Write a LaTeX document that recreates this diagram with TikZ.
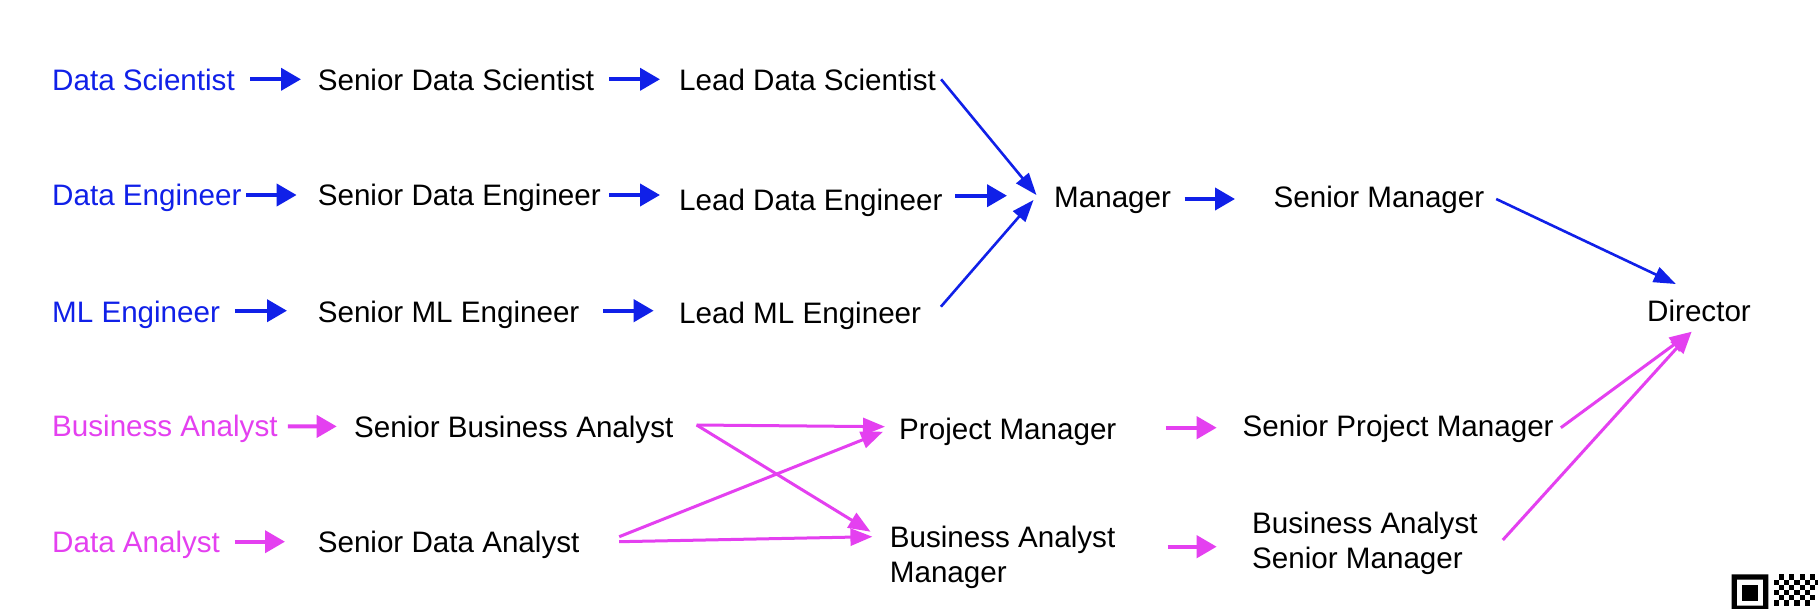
\documentclass[tikz,border=0pt]{standalone}
\usepackage{fontspec}
\setmainfont{Liberation Sans}
\usetikzlibrary{arrows.meta}
\definecolor{cblue}{RGB}{16,32,232}
\definecolor{cmag}{RGB}{228,64,240}
\begin{document}
\begin{tikzpicture}[x=1pt,y=-1pt,
  lbl/.style={anchor=base west,inner sep=0pt,font=\fontsize{29.6}{35}\selectfont},
  lbl2/.style={anchor=west,inner sep=0pt,align=left,font=\fontsize{29.6}{35}\selectfont},
  sarr/.style={line width=4pt,-{Triangle[length=20pt,width=22pt]}},
  darr/.style={line width=2.6pt,-{Triangle[length=22pt,width=16pt]}},
  marr/.style={line width=3pt,-{Triangle[length=22pt,width=17pt]}},
]
\fill[white] (0,0) rectangle (1818,608);
\useasboundingbox (0,0) rectangle (1818,608);

% row 1
\node[lbl,text=cblue] (ds)  at (52,90.7)  {Data Scientist};
\node[lbl] (sds) at (317.6,90.7) {Senior Data Scientist};
\node[lbl] (lds) at (679,90.7)   {Lead Data Scientist};
% row 2
\node[lbl,text=cblue] (de)  at (52,205.7)  {Data Engineer};
\node[lbl] (sde) at (317.6,205.7) {Senior Data Engineer};
\node[lbl] (lde) at (679,210.7)   {Lead Data Engineer};
\node[lbl] (mgr) at (1054,207.3)  {Manager};
\node[lbl] (smgr) at (1273.5,207.3) {Senior Manager};
% row 3
\node[lbl,text=cblue] (ml)  at (52,322.3)  {ML Engineer};
\node[lbl] (sml) at (317.6,322.3) {Senior ML Engineer};
\node[lbl] (lml) at (679,323.3)   {Lead ML Engineer};
\node[lbl] (dir) at (1647,321)    {Director};
% row 4
\node[lbl,text=cmag] (ba)  at (52,436.7)  {Business Analyst};
\node[lbl] (sba) at (354,437.3)   {Senior Business Analyst};
\node[lbl] (pm)  at (899,439)     {Project Manager};
\node[lbl] (spm) at (1242.5,436.7) {Senior Project Manager};
% row 5
\node[lbl,text=cmag] (da)  at (52,552.3)  {Data Analyst};
\node[lbl] (sda) at (317.6,552.3) {Senior Data Analyst};
\node[lbl2] (bam)  at (889.7,557.3) {Business Analyst\\Manager};
\node[lbl2] (basm) at (1252,543.3)  {Business Analyst\\Senior Manager};

% blue short arrows
\draw[sarr,cblue] ([shift={(15,-11.4)}]ds.base east) -- ([shift={(-16.6,-11.4)}]sds.base west);
\draw[sarr,cblue] ([shift={(14.6,-11.4)}]sds.base east) -- ([shift={(-19,-11.4)}]lds.base west);
\draw[sarr,cblue] ([shift={(4.5,-10.7)}]de.base east) -- ([shift={(-21,-10.7)}]sde.base west);
\draw[sarr,cblue] ([shift={(8,-10.7)}]sde.base east) -- ([shift={(-19,-15.7)}]lde.base west);
\draw[sarr,cblue] ([shift={(12.6,-15)}]lde.base east) -- ([shift={(-47,-11.6)}]mgr.base west);
\draw[sarr,cblue] ([shift={(13.5,-8.3)}]mgr.base east) -- ([shift={(-38.5,-8.3)}]smgr.base west);
\draw[sarr,cblue] ([shift={(14.7,-11.6)}]ml.base east) -- ([shift={(-30.6,-11.6)}]sml.base west);
\draw[sarr,cblue] ([shift={(23.7,-11.6)}]sml.base east) -- ([shift={(-25.3,-12.6)}]lml.base west);

% blue diagonals
\draw[darr,cblue] ([shift={(5,-11.4)}]lds.base east) -- ([shift={(-17.6,-12.3)}]mgr.base west);
\draw[darr,cblue] ([shift={(19.6,-16.6)}]lml.base east) -- ([shift={(-20.5,-7.3)}]mgr.base west);
\draw[darr,cblue] ([shift={(11.7,-8.3)}]smgr.base east) -- ([shift={(28.8,-37)}]dir.base west);

% magenta short arrows
\draw[sarr,cmag] ([shift={(10,-10.3)}]ba.base east) -- ([shift={(-17.3,-10.9)}]sba.base west);
\draw[sarr,cmag] ([shift={(14.7,-10.6)}]da.base east) -- ([shift={(-32.6,-10.6)}]sda.base west);
\draw[sarr,cmag] ([shift={(49.4,-11.3)}]pm.base east) -- ([shift={(-25.8,-9)}]spm.base west);
\draw[sarr,cmag] ([shift={(52.3,-10.6)}]bam.east) -- ([shift={(-35.3,3.4)}]basm.west);

% magenta diagonals
\draw[marr,cmag] ([shift={(23,-12.3)}]sba.base east) -- ([shift={(-14,-12.3)}]pm.base west);
\draw[marr,cmag] ([shift={(23,-12.3)}]sba.base east) -- ([shift={(-19.2,-25.6)}]bam.west);
\draw[marr,cmag] ([shift={(39.6,-15.6)}]sda.base east) -- ([shift={(-16,-7.3)}]pm.base west);
\draw[marr,cmag] ([shift={(39.6,-10.6)}]sda.base east) -- ([shift={(-17.3,-20.6)}]bam.west);
\draw[marr,cmag] ([shift={(7,-9)}]spm.base east) -- ([shift={(44.6,10.7)}]dir.base west);
\draw[marr,cmag] ([shift={(25,-3.3)}]basm.east) -- ([shift={(44.6,10.7)}]dir.base west);

% partial QR code at bottom right
\begin{scope}
\fill[black,even odd rule] (1731.7,574.3) rectangle (1768.3,610.9) (1736.9,579.5) rectangle (1763.1,605.7);
\fill[black] (1742.1,584.7) rectangle (1757.9,600.5);
\foreach \c/\r in {8/1,9/0,9/2,10/1,10/3,11/0,11/2,11/4,12/1,12/3,12/5,13/0,13/2,13/4,14/1,14/3,14/5,15/0,15/2,15/4,16/1,8/3,8/5,9/4,10/5}{
  \fill[black] ({1731.7+\c*5.23},{574.3+\r*5.23}) rectangle ++(5.23,5.23);
}
\end{scope}
\end{tikzpicture}
\end{document}
